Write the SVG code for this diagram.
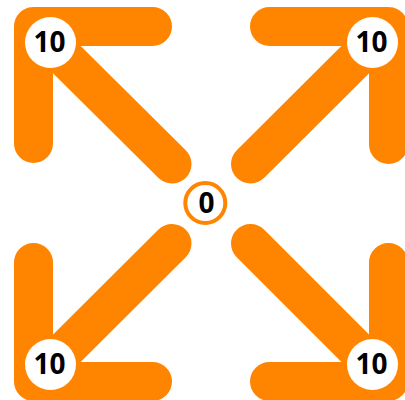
<svg xmlns="http://www.w3.org/2000/svg" width="405" height="400" viewBox="0 0 405 400">
<style>
.c{fill:none;stroke:#FF8500;stroke-width:39;stroke-linecap:round;stroke-linejoin:round}
.n{fill:#fff}
.t{font-family:"Open Sans","Noto Sans",sans-serif;font-weight:bold;font-size:28px;fill:#000;text-anchor:middle}
</style>
<rect width="405" height="400" fill="#fff"/>
<g id="connectors">
<path class="c" d="M172,164 L33.5,26.5 M33.5,143.5 L33.5,26.5 L152.5,26.5"/>
<path class="c" d="M250.5,164 L388.5,26.5 M388.5,144.5 L388.5,26.5 L269.5,26.5"/>
<path class="c" d="M172,243.5 L33.5,381.5 M33.5,262.5 L33.5,381.5 L152.5,381.5"/>
<path class="c" d="M250.5,243.5 L388.5,381.5 M388.5,262.5 L388.5,381.5 L269.5,381.5"/>
</g>
<g id="center">
<circle cx="205.3" cy="203" r="20" fill="#fff" stroke="#FF8500" stroke-width="4"/>
<text class="t" x="206.5" y="213.3">0</text>
</g>
<g id="tl"><circle class="n" cx="50.5" cy="42.5" r="25.5"/><text class="t" x="49.5" y="52">10</text></g>
<g id="tr"><circle class="n" cx="372.5" cy="42.5" r="25.5"/><text class="t" x="371.5" y="52">10</text></g>
<g id="bl"><circle class="n" cx="50.5" cy="364.5" r="25.5"/><text class="t" x="49.5" y="374">10</text></g>
<g id="br"><circle class="n" cx="372.5" cy="364.5" r="25.5"/><text class="t" x="371.5" y="374">10</text></g>
</svg>
